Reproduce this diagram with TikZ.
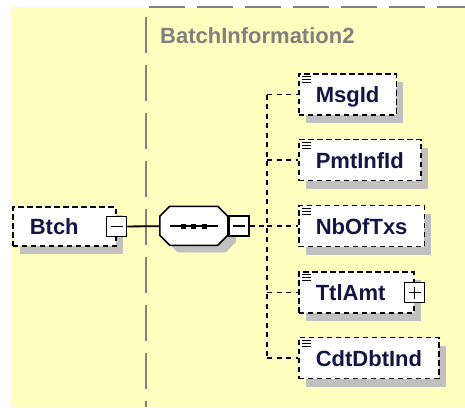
\documentclass[tikz,border=0pt]{standalone}
\usepackage{fontspec}
\setmainfont{Liberation Sans}
\usetikzlibrary{positioning, shadows}

\definecolor{xsdyellow}{RGB}{255,255,192}
\definecolor{xsdgray}{RGB}{128,128,128}
\definecolor{xsdshadow}{RGB}{192,192,192}
\definecolor{xsdtext}{RGB}{20,20,70}

\begin{document}
\begin{tikzpicture}[
  x=1pt, y=-1pt,
  elem/.style={rectangle, draw=black, line width=1.6pt, dash pattern=on 5.5pt off 3.5pt,
    fill=white, minimum height=41pt, inner xsep=17pt, inner ysep=0pt,
    text height=16pt, text depth=0pt, text=xsdtext,
    font=\fontsize{22}{26}\selectfont\bfseries, anchor=west,
    general shadow={shadow xshift=7pt, shadow yshift=-8pt, fill=xsdshadow, draw=none}},
  seqbox/.style={rectangle, minimum width=68pt, minimum height=39pt, inner sep=0pt},
  seqline/.style={draw=black, line width=1.6pt, fill=white},
  seqshadow/.style={fill=xsdshadow},
  minusbox/.style={rectangle, draw=black, line width=1.4pt, fill=white, minimum size=20pt, inner sep=0pt,
    path picture={\draw[line width=1.4pt] ([xshift=4pt]path picture bounding box.west) -- ([xshift=-4pt]path picture bounding box.east);}},
  plusbox/.style={rectangle, draw=black, line width=1.4pt, fill=white, minimum size=20pt, inner sep=0pt,
    path picture={\draw[line width=1.4pt] ([xshift=4pt]path picture bounding box.west) -- ([xshift=-4pt]path picture bounding box.east)
      ([yshift=4pt]path picture bounding box.south) -- ([yshift=-4pt]path picture bounding box.north);}},
  solidlink/.style={draw=black, line width=1.8pt},
  dashlink/.style={draw=black, line width=1.6pt, dash pattern=on 5pt off 4.5pt},
  groupline/.style={draw=xsdgray, line width=2pt, dash pattern=on 36pt off 12pt},
  grouptitle/.style={text=xsdgray, font=\fontsize{22}{26}\selectfont\bfseries, inner sep=0pt, anchor=base west}
]

\useasboundingbox (0,0) rectangle (465,407);
\fill[white] (0,0) rectangle (465,407);
\fill[xsdyellow] (11,7) rectangle (465,407);

% group frame
\draw[groupline] (149,7) -- (465,7);
\draw[groupline] (146,17) -- (146,407);
\node[grouptitle] (title) at (160,43) {BatchInformation2};

% parent element and sequence
\node[elem, text width=69pt, align=left, minimum height=39pt] (btch) at (12,226.5) {Btch};
\node[minusbox] (btchminus) at (btch.east) {};
\node[seqbox] (seq) at (194,226) {};
\foreach \sx/\sy/\st in {8/7/seqshadow, 0/0/seqline}
  \path[\st] ([shift={(\sx+10,\sy)}]seq.north west) -- ++(48,0) -- ++(10,10) -- ++(0,19)
    -- ++(-10,10) -- ++(-48,0) -- ++(-10,-10) -- ++(0,-19) -- cycle;
\node[minusbox, right=0pt of seq] (seqminus) {};
\draw[line width=1.4pt] ([xshift=-24pt]seq.center) -- ([xshift=24pt]seq.center);
\foreach \dx in {-11,-1,10}
  \fill ([xshift=\dx pt]seq.center) +(-2.5,-2.5) rectangle +(2.5,2.5);
\coordinate (hub) at (267,226);

% children
\node[elem] (msgid) at (298,94.5) {MsgId};
\node[elem] (pmtinfid) at (298,160) {PmtInfId};
\node[elem] (nboftxs) at (298,226) {NbOfTxs};
\node[elem, text width=81pt, align=left] (ttlamt) at (298,292.5) {TtlAmt};
\node[plusbox] (ttlamtplus) at (ttlamt.east) {};
\node[elem] (cdtdbtind) at (298,358) {CdtDbtInd};

\foreach \n in {msgid,pmtinfid,nboftxs,ttlamt,cdtdbtind} {
  \foreach \k in {0,1,2}
    \draw[line width=1pt] ([shift={(4,3.5+3*\k)}]\n.north west) -- +(9,0);
}

% connectors
\draw[solidlink] (btchminus) -- (seq);
\draw[dashlink] (seqminus) -- (hub);
\draw[dashlink] (hub |- msgid.west) -- (hub |- cdtdbtind.west);
\foreach \n in {msgid,pmtinfid,nboftxs,ttlamt,cdtdbtind}
  \draw[dashlink] (hub |- \n.west) -- (\n);

\end{tikzpicture}
\end{document}
